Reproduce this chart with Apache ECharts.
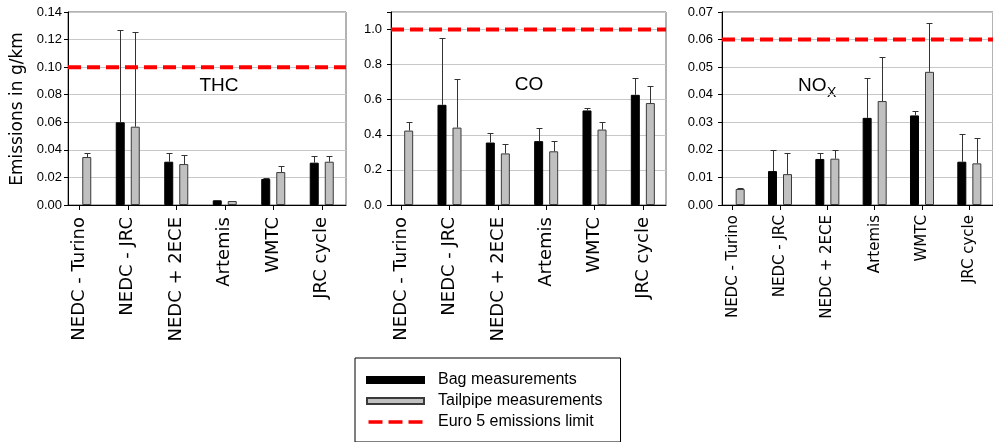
<!DOCTYPE html>
<html>
<head>
<meta charset="utf-8">
<script src="https://cdn.jsdelivr.net/npm/echarts@6/dist/echarts.min.js"></script>
<style>
html,body{margin:0;padding:0;background:#fff;}
#chart{width:993px;height:442px;}
</style>
</head>
<body>
<div id="chart"></div>
<script>
// ---- data ----
const categories = ['NEDC - Turino', 'NEDC - JRC', 'NEDC + 2ECE', 'Artemis', 'WMTC', 'JRC cycle'];
const seriesNames = ['Bag measurements', 'Tailpipe measurements', 'Euro 5 emissions limit'];

const thcBag     = [null, 0.0600, 0.0314, 0.0034, 0.0189, 0.0307];
const thcBagErr  = [null, 0.1267, 0.0380, 0.0036, 0.0194, 0.0353];
const thcTail    = [0.0348, 0.0568, 0.0297, 0.0029, 0.0239, 0.0314];
const thcTailErr = [0.0380, 0.1253, 0.0360, null, 0.0283, 0.0353];
const thcLimit = 0.10;
const thcTicks = { min: 0, max: 0.14, step: 0.02, decimals: 2 };

const coBag     = [null, 0.571, 0.356, 0.364, 0.539, 0.628];
const coBagErr  = [null, 0.949, 0.409, 0.440, 0.551, 0.726];
const coTail    = [0.424, 0.441, 0.294, 0.306, 0.430, 0.581];
const coTailErr = [0.473, 0.720, 0.349, 0.364, 0.472, 0.677];
const coLimit = 1.0;
const coTicks = { min: 0, max: 1.1, step: 0.2, decimals: 1 };

const noxBag     = [null, 0.0123, 0.0167, 0.0316, 0.0325, 0.0157];
const noxBagErr  = [null, 0.0200, 0.0189, 0.0462, 0.0340, 0.0256];
const noxTail    = [0.0058, 0.0112, 0.0168, 0.0377, 0.0483, 0.0151];
const noxTailErr = [0.0063, 0.0188, 0.0200, 0.0537, 0.0661, 0.0243];
const noxLimit = 0.06;
const noxTicks = { min: 0, max: 0.07, step: 0.01, decimals: 2 };

// ---- layout ----
const panels = [
  { bag: thcBag, bagErr: thcBagErr, tail: thcTail, tailErr: thcTailErr, limit: thcLimit, ticks: thcTicks,
    aLeft: 55, aWidth: 291, bLeft: 68, bWidth: 278, labelSize: 18, labelMargin: 12, yMargin: 6 },
  { bag: coBag, bagErr: coBagErr, tail: coTail, tailErr: coTailErr, limit: coLimit, ticks: coTicks,
    aLeft: 377, aWidth: 290, bLeft: 391, bWidth: 275, labelSize: 18, labelMargin: 12, yMargin: 9 },
  { bag: noxBag, bagErr: noxBagErr, tail: noxTail, tailErr: noxTailErr, limit: noxLimit, ticks: noxTicks,
    aLeft: 709, aWidth: 290, bLeft: 722, bWidth: 277, labelSize: 15, labelMargin: 10, yMargin: 9 }
];
const TOP = 12, HEIGHT = 193;
const AX_FONT = '"Liberation Sans", Arial, sans-serif';
const LBL_FONT = '"DejaVu Sans", sans-serif';

function errRender(side) {
  return function (params, api) {
    const i = api.value(0), v = api.value(1), e = api.value(2);
    const band = api.size([1, 0])[0];
    const p0 = api.coord([i, v]);
    const p1 = api.coord([i, e]);
    const x = Math.round(p0[0] + side * band * 0.155) + 0.5;
    const y1 = Math.round(p1[1]) + 0.5;
    return {
      type: 'group',
      children: [
        { type: 'line', shape: { x1: x, y1: p0[1], x2: x, y2: y1 }, style: { stroke: '#333', lineWidth: 1 } },
        { type: 'line', shape: { x1: x - 3, y1: y1, x2: x + 3, y2: y1 }, style: { stroke: '#333', lineWidth: 1 } }
      ]
    };
  };
}

const grid = [], xAxis = [], yAxis = [], series = [];
panels.forEach((p, k) => {
  const a = 2 * k, b = 2 * k + 1;
  grid.push({ left: p.aLeft, width: p.aWidth, top: TOP, height: HEIGHT, show: false });
  grid.push({ left: p.bLeft, width: p.bWidth, top: TOP, height: HEIGHT, show: true,
              borderColor: '#666', borderWidth: 1, backgroundColor: 'transparent' });
  xAxis.push({
    gridIndex: a, type: 'category', data: categories, boundaryGap: true,
    axisLine: { show: false },
    axisTick: { show: true, alignWithLabel: true, length: 5, lineStyle: { color: '#000' } },
    axisLabel: { interval: 0, rotate: 90, margin: p.labelMargin, fontSize: p.labelSize,
                 fontFamily: LBL_FONT, color: '#000' }
  });
  xAxis.push({
    gridIndex: b, type: 'category', data: ['s', 'e'], boundaryGap: false,
    axisLine: { show: true, lineStyle: { color: '#000', width: 1 } },
    axisTick: { show: false }, axisLabel: { show: false }, splitLine: { show: false }
  });
  const t = p.ticks;
  yAxis.push({ gridIndex: a, type: 'value', min: t.min, max: t.max, interval: t.step, show: false, splitLine: { show: false } });
  yAxis.push({
    gridIndex: b, type: 'value', min: t.min, max: t.max, interval: t.step,
    axisLine: { show: true, lineStyle: { color: '#000', width: 1 } },
    axisTick: { show: true, inside: false, length: 4, lineStyle: { color: '#000' } },
    splitLine: { show: true, lineStyle: { color: '#c8c8c8', width: 1 } },
    axisLabel: {
      margin: p.yMargin, fontSize: 13, fontFamily: AX_FONT, color: '#000',
      formatter: function (v) {
        const r = v / t.step;
        if (Math.abs(r - Math.round(r)) > 1e-6) return '';
        return v.toFixed(t.decimals);
      }
    }
  });
  series.push({
    name: seriesNames[0], type: 'bar', xAxisIndex: a, yAxisIndex: a,
    data: p.bag.map(v => v == null ? '-' : v),
    barWidth: 9, barGap: '67%',
    itemStyle: { color: '#000', borderColor: '#000', borderWidth: 1 },
    silent: true, z: 2
  });
  series.push({
    name: seriesNames[1], type: 'bar', xAxisIndex: a, yAxisIndex: a,
    data: p.tail,
    barWidth: 9, barGap: '67%',
    itemStyle: { color: '#c0c0c0', borderColor: '#3a3a3a', borderWidth: 1 },
    silent: true, z: 2
  });
  series.push({
    name: 'bagErr' + k, type: 'custom', xAxisIndex: a, yAxisIndex: a,
    renderItem: errRender(-1), silent: true, z: 3,
    encode: { x: 0, y: [1, 2] },
    data: p.bag.map((v, i) => [i, v, p.bagErr[i]]).filter(d => d[1] != null && d[2] != null)
  });
  series.push({
    name: 'tailErr' + k, type: 'custom', xAxisIndex: a, yAxisIndex: a,
    renderItem: errRender(1), silent: true, z: 3,
    encode: { x: 0, y: [1, 2] },
    data: p.tail.map((v, i) => [i, v, p.tailErr[i]]).filter(d => d[1] != null && d[2] != null)
  });
  series.push({
    name: seriesNames[2], type: 'line', xAxisIndex: b, yAxisIndex: b,
    data: [p.limit, p.limit], symbol: 'none', silent: true, z: 5,
    lineStyle: { color: '#ff0000', width: 4, type: [13, 6] },
    itemStyle: { color: '#ff0000' }
  });
});

const option = {
  animation: false,
  backgroundColor: '#fff',
  grid, xAxis, yAxis, series,
  legend: {
    orient: 'vertical', left: 355, top: 358,
    padding: [14, 18, 12, 11], itemGap: 5,
    itemWidth: 57, itemHeight: 6,
    borderColor: '#000', borderWidth: 1,
    selectedMode: false,
    textStyle: { fontSize: 16, fontFamily: AX_FONT, color: '#000', lineHeight: 16, padding: [0, 0, 0, 9] },
    data: [
      { name: seriesNames[0], icon: 'rect' },
      { name: seriesNames[1], icon: 'rect' },
      { name: seriesNames[2],
        icon: 'path://M0,0L0.01,0L0.01,0.01L0,0.01Z M0,5.99L0.01,5.99L0.01,6L0,6Z M0,1.3L14,1.3L14,4.7L0,4.7Z M20,1.3L34,1.3L34,4.7L20,4.7Z M40,1.3L54,1.3L54,4.7L40,4.7Z',
        itemStyle: { color: '#ff0000', borderWidth: 0 } }
    ]
  },
  graphic: [
    { type: 'text', x: 18, y: 109, rotation: Math.PI / 2,
      style: { text: 'Emissions in g/km', font: '17px "DejaVu Sans", sans-serif', fill: '#000',
               textAlign: 'center', textVerticalAlign: 'middle', align: 'center', verticalAlign: 'middle' } },
    { type: 'text', x: 219, y: 86,
      style: { text: 'THC', font: '19px "Liberation Sans", Arial, sans-serif', fill: '#000',
               textAlign: 'center', textVerticalAlign: 'middle', align: 'center', verticalAlign: 'middle' } },
    { type: 'text', x: 529, y: 85,
      style: { text: 'CO', font: '19px "Liberation Sans", Arial, sans-serif', fill: '#000',
               textAlign: 'center', textVerticalAlign: 'middle', align: 'center', verticalAlign: 'middle' } },
    { type: 'text', x: 798, y: 86,
      style: { text: 'NO', font: '19px "Liberation Sans", Arial, sans-serif', fill: '#000',
               textAlign: 'left', textVerticalAlign: 'middle', align: 'left', verticalAlign: 'middle' } },
    { type: 'text', x: 827, y: 93.5,
      style: { text: 'X', font: '14px "Liberation Sans", Arial, sans-serif', fill: '#000',
               textAlign: 'left', textVerticalAlign: 'middle', align: 'left', verticalAlign: 'middle' } }
  ]
};

const chart = echarts.init(document.getElementById('chart'), null, { renderer: 'canvas' });
chart.setOption(option);
</script>
</body>
</html>
